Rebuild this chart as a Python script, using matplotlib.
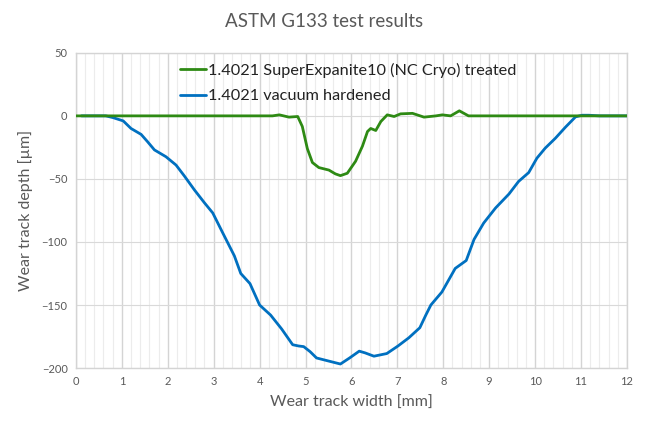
import matplotlib
matplotlib.use('Agg')
import matplotlib.pyplot as plt
import numpy as np

x_blue = [0.12, 0.65, 0.8, 1.03, 1.2, 1.42, 1.56, 1.71, 1.96, 2.18, 2.36, 2.58, 2.8, 2.98,
          3.2, 3.45, 3.59, 3.79, 4.0, 4.24, 4.48, 4.72, 4.85, 4.96, 5.1, 5.24, 5.52, 5.76,
          5.96, 6.17, 6.3, 6.49, 6.77, 7.01, 7.25, 7.49, 7.62, 7.73, 7.97, 8.26, 8.5, 8.67,
          8.88, 9.14, 9.43, 9.64, 9.86, 10.04, 10.22, 10.44, 10.66, 10.88, 11.02, 11.17,
          11.4, 12.0]
y_blue = [0, 0, -1.3, -4, -10, -14.7, -20.5, -27, -32.4, -39, -47.6, -58.7, -69, -77,
          -93, -111, -125, -133, -150, -158, -169, -181.5, -182.5, -183, -187, -192, -194.6,
          -196.8, -192, -186.6, -188, -190.6, -188.5, -182.6, -176, -168, -158, -150, -139.7,
          -121, -114.7, -98, -85, -73, -62, -52, -45, -33.5, -25.6, -17.8, -9, -0.8, 0.5, 0.5,
          0, 0]

x_green = [0, 4.28, 4.43, 4.64, 4.83, 4.93, 5.04, 5.15, 5.29, 5.51, 5.65, 5.76, 5.91, 6.09,
           6.24, 6.35, 6.42, 6.53, 6.64, 6.78, 6.93, 7.07, 7.33, 7.58, 7.84, 7.98, 8.16, 8.35,
           8.55, 12.0]
y_green = [0, 0, 0.8, -1, -0.5, -8.4, -26, -37, -41, -43, -46, -47.4, -45.5, -36,
           -24, -12.4, -10, -11.6, -4.5, 0.8, -0.5, 1.6, 2, -1, 0, 0.8, 0, 4,
           0, 0]

label_green = '1.4021 SuperExpanite10 (NC Cryo) treated'
label_blue = '1.4021 vacuum hardened'

plt.rcParams['font.family'] = ['Lato', 'DejaVu Sans']
txt = '#595959'

fig = plt.figure(figsize=(6.49, 4.33), dpi=100)
ax = fig.add_axes([0.117, 0.150, 0.849, 0.728])

ax.plot(x_blue, y_blue, color='#0070C0', lw=2.0, label=label_blue, zorder=3,
        solid_joinstyle='round', solid_capstyle='round')
ax.plot(x_green, y_green, color='#2E8A14', lw=2.0, label=label_green, zorder=4,
        solid_joinstyle='round', solid_capstyle='round')

ax.set_xlim(0, 12)
ax.set_ylim(-200, 50)
ax.set_xticks(np.arange(0, 13, 1))
ax.set_xticks(np.arange(0, 12.01, 0.2), minor=True)
ax.set_yticks(np.arange(-200, 51, 50))
ax.grid(which='major', axis='x', color='#d4d4d4', lw=1.0, zorder=0)
ax.grid(which='minor', axis='x', color='#ececec', lw=0.8, zorder=0)
ax.grid(which='major', axis='y', color='#d9d9d9', lw=0.8, zorder=0)
ax.tick_params(which='both', length=0, labelsize=8, labelcolor=txt, pad=6)
for s in ax.spines.values():
    s.set_color('#d4d4d4')
    s.set_linewidth(1.0)

ax.set_xlabel('Wear track width [mm]', fontsize=11.5, color=txt, labelpad=6)
ax.set_ylabel('Wear track depth [µm]', fontsize=11.5, color=txt, labelpad=6)
fig.text(0.5, 0.95, 'ASTM G133 test results', ha='center', va='center',
         fontsize=13.5, color=txt)

h, l = ax.get_legend_handles_labels()
leg = ax.legend(h[::-1], l[::-1], loc='upper left', bbox_to_anchor=(0.172, 1.0),
                frameon=False, fontsize=11.7, handlelength=1.6, handletextpad=0.1,
                labelspacing=0.7, borderaxespad=0.2)
for t in leg.get_texts():
    t.set_color('#222222')

fig.savefig('out.png', dpi=100)
